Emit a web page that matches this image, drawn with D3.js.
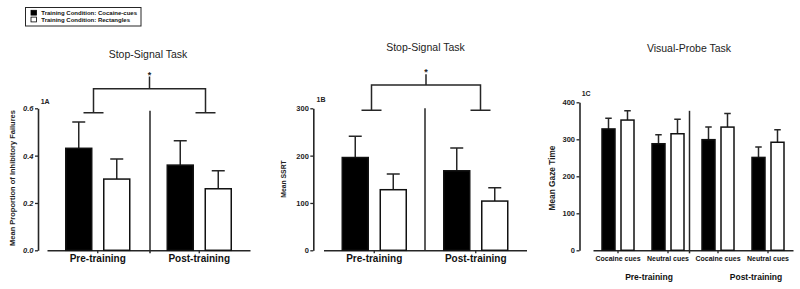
<!doctype html>
<html>
<head>
<meta charset="utf-8">
<script src="https://d3js.org/d3.v7.min.js"></script>
<style>
  body { margin: 0; background: #fff; }
  svg { font-family: "Liberation Sans", Arial, sans-serif; }
</style>
</head>
<body>
<div id="chart"></div>
<script>
// ---------- data ----------
var legendLabels = ["Training Condition: Cocaine-cues", "Training Condition: Rectangles"];
var conditions = ["cocaine", "rectangles"];
var phases = ["Pre-training", "Post-training"];

// 1A  mean proportion of inhibitory failures (pre, post)
var failCocaine = [0.431, 0.360], failCocaineErr = [0.111, 0.103];
var failRect    = [0.301, 0.260], failRectErr    = [0.085, 0.076];

// 1B  mean SSRT (pre, post)
var ssrtCocaine = [196, 168], ssrtCocaineErr = [45, 48];
var ssrtRect    = [128, 104], ssrtRectErr    = [33, 28];

// 1C  mean gaze time (pre cocaine cues, pre neutral cues, post cocaine cues, post neutral cues)
var gazeCats    = ["Pre|Cocaine cues", "Pre|Neutral cues", "Post|Cocaine cues", "Post|Neutral cues"];
var gazeCocaine = [328, 288, 299, 251], gazeCocaineErr = [29, 24, 34, 28];
var gazeRect    = [352, 315, 333, 292], gazeRectErr    = [25, 39, 37, 34];

var ink = "#262626";

var svg = d3.select("#chart").append("svg")
    .attr("width", 800)
    .attr("height", 289);

// legend
var leg = svg.append("g");
leg.append("rect").attr("x", 25.5).attr("y", 7.5).attr("width", 115.5).attr("height", 18.5)
    .attr("fill", "#fff").attr("stroke", ink).attr("stroke-width", 1);
legendLabels.forEach(function(t, i) {
  leg.append("rect").attr("x", 31).attr("y", 10.3 + i * 6.8).attr("width", 5.5).attr("height", 4.8)
      .attr("fill", i == 0 ? "#000" : "#fff").attr("stroke", "#000").attr("stroke-width", 0.8);
  leg.append("text").attr("x", 41.3).attr("y", 15 + i * 7)
      .attr("font-size", "6px").attr("font-weight", "bold").attr("fill", "#111").text(t);
});

function drawPanel(p) {
  var g = svg.append("g");
  var y = d3.scaleLinear().domain(p.yDomain).range(p.yRange);
  var x = d3.scaleBand().domain(p.cats).range(p.xRange);
  var xIn = d3.scaleBand().domain(conditions).range([-p.half, p.half]).paddingInner(0.316);

  // title
  g.append("text").attr("x", p.titlePos[0]).attr("y", p.titlePos[1]).attr("text-anchor", "middle")
      .attr("font-size", "10.5px").attr("fill", "#222").text(p.title);

  // y axis
  var ya = g.append("g").attr("transform", "translate(" + p.yAxisX + ",0)")
      .call(d3.axisLeft(y).tickValues(p.yTicks).tickSize(3).tickSizeOuter(0).tickPadding(1.5).tickFormat(p.tickFmt));
  ya.selectAll("text").attr("font-size", "7.5px").attr("font-weight", "bold")
      .attr("font-style", p.italic ? "italic" : "normal").attr("fill", "#222").attr("font-family", null);

  // x axis
  var xa = g.append("g").attr("transform", "translate(0," + p.yRange[0] + ")")
      .call(d3.axisBottom(x).tickSize(3).tickSizeOuter(0).tickPadding(p.catPad).tickFormat(p.catFmt));
  xa.selectAll("text").attr("font-size", p.catSize).attr("font-weight", "bold").attr("fill", "#111")
      .attr("font-family", null);

  [ya, xa].forEach(function(a) {
    a.select(".domain").attr("stroke", ink).attr("stroke-width", 1.6);
    a.selectAll(".tick line").attr("stroke", ink).attr("stroke-width", 1.3);
  });

  // panel label and y title
  g.append("text").attr("x", p.labelPos[0]).attr("y", p.labelPos[1])
      .attr("font-size", "7px").attr("font-weight", "bold").attr("fill", "#222").text(p.label);
  g.append("text")
      .attr("transform", "translate(" + p.yTitlePos[0] + "," + p.yTitlePos[1] + ") rotate(-90)")
      .attr("text-anchor", "middle").attr("dy", "0.35em")
      .attr("font-size", p.yTitleSize).attr("font-weight", "bold").attr("fill", "#222").text(p.yTitle);

  // bars
  var rows = [];
  p.cats.forEach(function(c, i) {
    rows.push({cat: c, cond: "cocaine", v: p.black[i], e: p.blackErr[i]});
    rows.push({cat: c, cond: "rectangles", v: p.white[i], e: p.whiteErr[i]});
  });
  var cx = function(d) { return x(d.cat) + x.bandwidth() / 2 + xIn(d.cond) + xIn.bandwidth() / 2; };

  g.selectAll(".err").data(rows).enter().append("path")
      .attr("d", function(d) {
        var c = cx(d), w = xIn.bandwidth() / 4;
        return "M" + c + "," + y(d.v) + "V" + y(d.v + d.e) + "M" + (c - w) + "," + y(d.v + d.e) + "H" + (c + w);
      })
      .attr("fill", "none").attr("stroke", ink).attr("stroke-width", 1.5);

  g.selectAll(".bar").data(rows).enter().append("rect")
      .attr("x", function(d) { return x(d.cat) + x.bandwidth() / 2 + xIn(d.cond); })
      .attr("y", function(d) { return y(d.v); })
      .attr("width", xIn.bandwidth())
      .attr("height", function(d) { return y(0) - y(d.v); })
      .attr("fill", function(d) { return d.cond == "cocaine" ? "#000" : "#fff"; })
      .attr("stroke", "#111").attr("stroke-width", 1.5);

  // divider between phases
  var mid = (p.xRange[0] + p.xRange[1]) / 2 + p.divShift;
  g.append("line").attr("x1", mid).attr("x2", mid)
      .attr("y1", y(p.divTop)).attr("y2", y(0) + p.divBelow)
      .attr("stroke", ink).attr("stroke-width", 1.5);

  // significance bracket
  if (p.bracket) {
    var b = p.bracket;
    var xl = x(p.cats[0]) + x.bandwidth() / 2 + b.shift[0];
    var xr = x(p.cats[1]) + x.bandwidth() / 2 + b.shift[1];
    var xm = (xl + xr) / 2;
    g.append("path")
        .attr("d", "M" + (xl - 10) + "," + y(b.foot) + "H" + (xl + 10) +
                   "M" + xl + "," + y(b.foot) + "V" + y(b.bar) + "H" + xr + "V" + y(b.foot) +
                   "M" + (xr - 10) + "," + y(b.foot) + "H" + (xr + 10) +
                   "M" + xm + "," + y(b.bar) + "V" + y(b.top))
        .attr("fill", "none").attr("stroke", ink).attr("stroke-width", 1.5);
    g.append("text").attr("x", xm).attr("y", y(b.top) + 1).attr("text-anchor", "middle")
        .attr("font-size", "9px").attr("font-weight", "bold").attr("fill", "#222").text("*");
  }

  // outer group labels (panel C)
  if (p.groupLabels) {
    var gx = d3.scaleBand().domain(phases).range(p.xRange);
    phases.forEach(function(ph, i) {
      g.append("text").attr("x", gx(ph) + gx.bandwidth() / 2 + p.groupShift[i]).attr("y", 279.5)
          .attr("text-anchor", "middle").attr("font-size", "8.5px").attr("font-weight", "bold")
          .attr("fill", "#111").text(ph);
    });
  }
}

drawPanel({
  cats: phases, black: failCocaine, blackErr: failCocaineErr, white: failRect, whiteErr: failRectErr,
  yDomain: [0, 0.6], yRange: [250.3, 108.3], yTicks: [0, 0.2, 0.4, 0.6], tickFmt: d3.format(".1f"), italic: true,
  yAxisX: 38, xRange: [47, 250], half: 32, catPad: 2, catSize: "10px", catFmt: function(d) { return d; },
  title: "Stop-Signal Task", titlePos: [148, 58], label: "1A", labelPos: [40.7, 104],
  yTitle: "Mean Proportion of Inhibitory Failures", yTitlePos: [12, 178], yTitleSize: "7.5px",
  divShift: 1.5, divTop: 0.59, divBelow: 3,
  bracket: {shift: [-4.25, 6.25], foot: 0.581, bar: 0.683, top: 0.734}
});

drawPanel({
  cats: phases, black: ssrtCocaine, blackErr: ssrtCocaineErr, white: ssrtRect, whiteErr: ssrtRectErr,
  yDomain: [0, 300], yRange: [250.3, 108.3], yTicks: [0, 100, 200, 300], tickFmt: d3.format("d"), italic: false,
  yAxisX: 313.3, xRange: [323.5, 526.5], half: 32, catPad: 2, catSize: "10px", catFmt: function(d) { return d; },
  title: "Stop-Signal Task", titlePos: [425.5, 51], label: "1B", labelPos: [316.5, 102],
  yTitle: "Mean SSRT", yTitlePos: [283.5, 179], yTitleSize: "6.8px",
  divShift: 0, divTop: 300, divBelow: 0,
  bracket: {shift: [-2.75, 4.75], foot: 296, bar: 349, top: 372}
});

drawPanel({
  cats: gazeCats, black: gazeCocaine, blackErr: gazeCocaineErr, white: gazeRect, whiteErr: gazeRectErr,
  yDomain: [0, 400], yRange: [250.3, 102.3], yTicks: [0, 100, 200, 300, 400], tickFmt: d3.format("d"), italic: false,
  yAxisX: 579.5, xRange: [593, 793], half: 16, catPad: 2.4, catSize: "7px",
  catFmt: function(d) { return d.split("|")[1]; },
  title: "Visual-Probe Task", titlePos: [689, 52], label: "1C", labelPos: [581.7, 96],
  yTitle: "Mean Gaze Time", yTitlePos: [552, 178], yTitleSize: "8.3px",
  divShift: -3.5, divTop: 377, divBelow: 3,
  groupLabels: true, groupShift: [6, 13]
});
</script>
</body>
</html>
